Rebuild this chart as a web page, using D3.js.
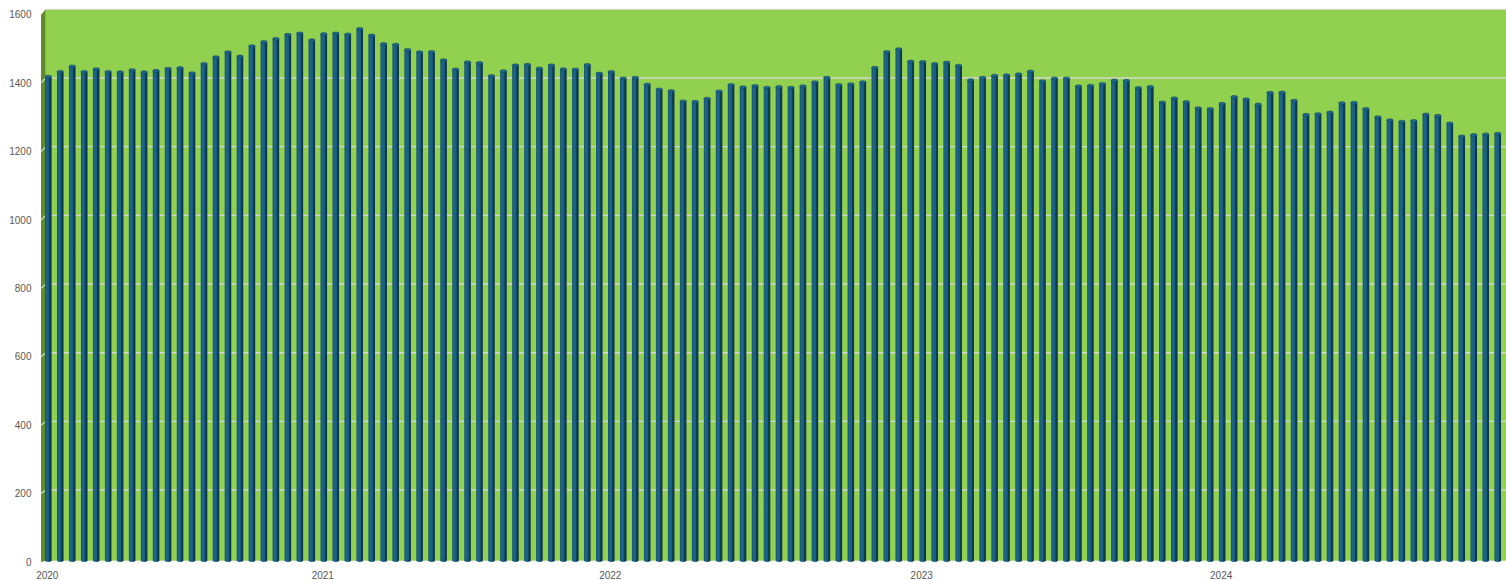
<!DOCTYPE html>
<html>
<head>
<meta charset="utf-8">
<script src="https://cdn.jsdelivr.net/npm/d3@7"></script>
<style>
  html, body { margin: 0; padding: 0; background: #ffffff; }
  svg { display: block; }
  text { font-family: "Liberation Sans", Arial, sans-serif; }
</style>
</head>
<body>
<svg id="chart" width="1506" height="580"></svg>
<script>
// ---- data ----
const values = [
  1404, 1418, 1434, 1418, 1426, 1418, 1417, 1423, 1417, 1421,
  1427, 1429, 1414, 1441, 1461, 1475, 1463, 1493, 1505, 1514,
  1526, 1530, 1510, 1528, 1530, 1527, 1543, 1524, 1499, 1497,
  1482, 1475, 1476, 1452, 1425, 1446, 1444, 1406, 1420, 1437,
  1439, 1428, 1437, 1426, 1425, 1438, 1413, 1418, 1399, 1401,
  1381, 1367, 1362, 1332, 1331, 1340, 1361, 1380, 1373, 1377,
  1372, 1374, 1372, 1376, 1388, 1401, 1380, 1382, 1388, 1430,
  1476, 1484, 1448, 1447, 1441, 1445, 1436, 1394, 1401, 1407,
  1408, 1411, 1419, 1391, 1399, 1399, 1376, 1378, 1383, 1393,
  1392, 1371, 1374, 1329, 1341, 1330, 1312, 1310, 1325, 1345,
  1338, 1323, 1357, 1358, 1334, 1293, 1295, 1300, 1327, 1328,
  1310, 1286, 1277, 1273, 1275, 1294, 1290, 1268, 1230, 1234,
  1236, 1238
];
const categories = values.map((_, i) => "P" + (i + 1));
const yearLabels = ["2020", "2021", "2022", "2023", "2024"];
const yearStartIndex = [0, 23, 47, 73, 98];
const yTicks = [0, 200, 400, 600, 800, 1000, 1200, 1400, 1600];

// ---- layout ----
const svg = d3.select("#chart");
const depthX = 4.7;
const frontLeft = 41, right = 1506;
const x = d3.scaleBand().domain(categories).range([42, 1504]).paddingInner(0.45).paddingOuter(0.25);
const yFront = d3.scaleLinear().domain([0, 1600]).range([562, 14.8]);
const yBack = d3.scaleLinear().domain([0, 1600]).range([558.7, 9.3]);

const defs = svg.append("defs");
const grad = defs.append("linearGradient").attr("id", "barGrad").attr("x1", "0").attr("x2", "1").attr("y1", "0").attr("y2", "0");
grad.append("stop").attr("offset", "0%").attr("stop-color", "#14526f");
grad.append("stop").attr("offset", "25%").attr("stop-color", "#1d668a");
grad.append("stop").attr("offset", "62%").attr("stop-color", "#185c7e");
grad.append("stop").attr("offset", "68%").attr("stop-color", "#0f3e56");
grad.append("stop").attr("offset", "100%").attr("stop-color", "#0c3449");

// back wall
svg.append("rect")
  .attr("x", frontLeft + depthX).attr("y", yBack(1600))
  .attr("width", right - frontLeft - depthX).attr("height", yBack(0) - yBack(1600) + 2)
  .attr("fill", "#92d050");
svg.append("line")
  .attr("x1", frontLeft + depthX).attr("x2", right)
  .attr("y1", yBack(1600)).attr("y2", yBack(1600))
  .attr("stroke", "#d6dccc").attr("stroke-width", 1);

// left side wall
svg.append("path")
  .attr("d", `M${frontLeft},${yFront(1600)} L${frontLeft + depthX},${yBack(1600)} L${frontLeft + depthX},${yBack(0) + 2} L${frontLeft},${yFront(0)} Z`)
  .attr("fill", "#628c2c");

// gridlines
const grid = svg.append("g");
yTicks.filter(t => t > 0 && t < 1600).forEach(t => {
  grid.append("line")
    .attr("x1", frontLeft + depthX).attr("x2", right)
    .attr("y1", yBack(t)).attr("y2", yBack(t))
    .attr("stroke", "#d3d9c8").attr("stroke-width", 1.4);
  grid.append("line")
    .attr("x1", frontLeft).attr("x2", frontLeft + depthX)
    .attr("y1", yFront(t)).attr("y2", yBack(t))
    .attr("stroke", "#d3d9c8").attr("stroke-width", 1.2);
});

// bars (cylinders)
const bw = x.bandwidth();
const barBottom = 560.5;
const bars = svg.append("g");
values.forEach((v, i) => {
  const x0 = x(categories[i]);
  const yt = yBack(v);
  bars.append("rect")
    .attr("x", x0).attr("y", yt)
    .attr("width", bw).attr("height", barBottom - yt)
    .attr("fill", "url(#barGrad)");
  bars.append("ellipse")
    .attr("cx", x0 + bw / 2).attr("cy", barBottom)
    .attr("rx", bw / 2).attr("ry", 1.4)
    .attr("fill", "url(#barGrad)");
  bars.append("ellipse")
    .attr("cx", x0 + bw / 2).attr("cy", yt)
    .attr("rx", bw / 2).attr("ry", 1.4)
    .attr("fill", "#1e6a8e").attr("stroke", "#0f3f58").attr("stroke-width", 0.5);
});

// y axis labels
svg.append("g").selectAll("text").data(yTicks).join("text")
  .attr("x", 31.5).attr("y", d => yFront(d))
  .attr("dy", "0.35em").attr("text-anchor", "end")
  .attr("font-size", 10).attr("fill", "#595959")
  .text(d => d);

// x axis labels (years)
svg.append("g").selectAll("text").data(yearLabels).join("text")
  .attr("x", (d, k) => x(categories[yearStartIndex[k]]) + bw / 2 - 1)
  .attr("y", 578.5).attr("text-anchor", "middle")
  .attr("font-size", 10).attr("fill", "#595959")
  .text(d => d);
</script>
</body>
</html>
